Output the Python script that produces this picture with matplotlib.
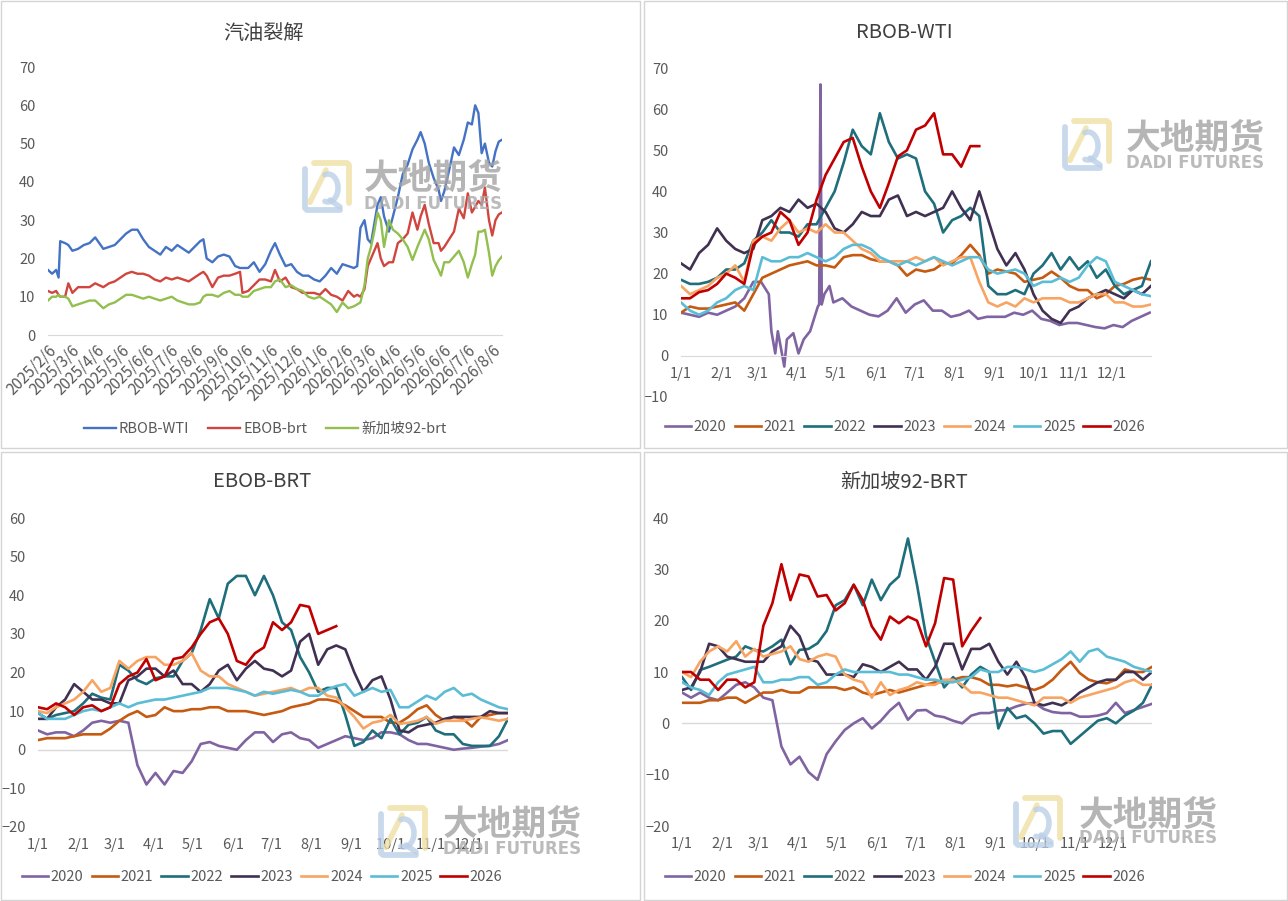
import numpy as np
import pandas as pd
import matplotlib
matplotlib.use("Agg")
import matplotlib.pyplot as plt
import matplotlib.dates as mdates
from matplotlib.ticker import FuncFormatter
from matplotlib.lines import Line2D
from matplotlib.patches import Rectangle

plt.rcParams['font.family'] = ['Noto Sans CJK SC', 'DejaVu Sans']

W, H = 1288, 901
TXT = '#595959'

# ---------------- panel 1: 汽油裂解 (daily spreads, read roughly weekly) ----------------
crack_dates = [
    "2025-02-06", "2025-02-11", "2025-02-16", "2025-02-19", "2025-02-21", "2025-02-27", "2025-03-03",
    "2025-03-08", "2025-03-15", "2025-03-22", "2025-03-29", "2025-04-05", "2025-04-10", "2025-04-15",
    "2025-04-22", "2025-04-29", "2025-05-06", "2025-05-13", "2025-05-20", "2025-05-27", "2025-06-03",
    "2025-06-10", "2025-06-17", "2025-06-24", "2025-07-01", "2025-07-08", "2025-07-15", "2025-07-22",
    "2025-07-29", "2025-08-05", "2025-08-12", "2025-08-16", "2025-08-20", "2025-08-27", "2025-09-03",
    "2025-09-10", "2025-09-17", "2025-09-24", "2025-09-30", "2025-10-03", "2025-10-10", "2025-10-17",
    "2025-10-24", "2025-10-31", "2025-11-07", "2025-11-12", "2025-11-18", "2025-11-25", "2025-12-02",
    "2025-12-09", "2025-12-16", "2025-12-23", "2025-12-30", "2026-01-06", "2026-01-13", "2026-01-20",
    "2026-01-27", "2026-02-03", "2026-02-10", "2026-02-17", "2026-02-21", "2026-02-25", "2026-03-02",
    "2026-03-06", "2026-03-10", "2026-03-14", "2026-03-18", "2026-03-22", "2026-03-26", "2026-04-01",
    "2026-04-06", "2026-04-12", "2026-04-18", "2026-04-24", "2026-04-30", "2026-05-06", "2026-05-10",
    "2026-05-15", "2026-05-20", "2026-05-26", "2026-06-01", "2026-06-04", "2026-06-08", "2026-06-14",
    "2026-06-20", "2026-06-26", "2026-07-02", "2026-07-07", "2026-07-12", "2026-07-16", "2026-07-20",
    "2026-07-24", "2026-07-28", "2026-08-02", "2026-08-06", "2026-08-10", "2026-08-14", "2026-08-18",
]
rbob_wti = [
    17, 16, 17, 15, 24.5, 24, 23.5,
    22, 22.5, 23.5, 24, 25.5, 24, 22.5,
    23, 23.5, 25, 26.5, 27.5, 27.5, 25,
    23, 22, 21, 23, 22, 23.5, 22.5,
    21.5, 23, 24.5, 25, 20, 19, 20.5,
    21, 20.5, 18, 17.5, 17.5, 17.5, 19,
    16.5, 18.5, 22, 24, 21, 18, 18.5,
    16.5, 15.5, 15.5, 14.5, 14, 15.5, 17.5,
    16, 18.5, 18, 17.5, 18, 28, 30,
    25, 24, 29, 34, 36, 31, 27,
    31, 36, 42, 44.5, 48.5, 51, 53,
    50, 45, 41, 38, 35, 37.5, 43,
    49, 47, 51, 55.5, 55, 60, 58,
    47.5, 50, 45, 44, 48, 50.5, 51,
]
ebob_brt = [
    11.5, 11, 11.5, 10.5, 10, 10, 13.5,
    11, 12.5, 12.5, 12.5, 13.5, 13, 12.5,
    13.5, 14, 15, 16, 16.5, 16, 16,
    15.5, 14.5, 14, 15, 14.5, 15, 14.5,
    14, 15, 16, 16.5, 15.5, 12.5, 15,
    15.5, 15.5, 16, 16.5, 11, 11.5, 13,
    14.5, 14.5, 14, 17, 14, 15, 12.5,
    12, 11, 11, 11, 10.5, 12, 10.5,
    10, 9, 11.5, 10, 10.5, 10, 12,
    18, 20, 22, 24, 20, 18, 19,
    19, 24, 25, 26.5, 32, 27.5, 31,
    34, 29, 24, 24, 22, 23, 25,
    27, 33, 30.5, 37, 32, 33.5, 35,
    34, 38.5, 30, 26, 30, 31.5, 32,
]
sg92_brt = [
    9, 10, 10, 10.5, 10, 10, 9.5,
    7.5, 8, 8.5, 9, 9, 8, 7,
    8, 8.5, 9.5, 10.5, 10.5, 10, 9.5,
    10, 9.5, 9, 9.5, 10, 9, 8.5,
    8, 8, 8.5, 10, 10.5, 10.5, 10,
    11, 11.5, 10.5, 10.5, 10, 10, 11.5,
    12, 12.5, 12.5, 14, 14.5, 12.5, 13,
    12, 11.5, 10, 9.5, 10, 9, 8,
    6, 8.5, 7, 7.5, 8, 8.5, 13,
    20, 23, 27, 32, 30, 23, 30,
    27.5, 26.5, 25, 23, 19.6, 23, 25,
    27.5, 25, 19.6, 17, 15.5, 19, 19,
    20.5, 22, 19, 15, 18.5, 21, 27,
    27, 27.5, 21.5, 15.5, 18, 19.5, 20.5,
]
crack_names = ["RBOB-WTI", "EBOB-brt", "新加坡92-brt"]
crack_colors = ["#4472C4", "#D0463F", "#92BF4E"]

# ---------------- seasonal panels: weekly readings from 1/1 ----------------
years = ["2020", "2021", "2022", "2023", "2024", "2025", "2026"]
year_colors = ["#8064A2", "#C55A11", "#1F6E7B", "#403152", "#F8A462", "#5BBDD5", "#C00000"]
week_days = pd.date_range("2001-01-01", periods=53, freq="7D")

# RBOB-WTI
rbob_2020_days = ["01-01", "01-08", "01-15", "01-22", "01-29", "02-05", "02-12", "02-19",
                  "02-26", "03-04", "03-10", "03-12", "03-15", "03-17", "03-22", "03-24",
                  "03-29", "04-02", "04-06", "04-11", "04-15", "04-17", "04-18", "04-19",
                  "04-20", "04-22", "04-26", "04-29", "05-06", "05-13", "05-20", "05-27",
                  "06-03", "06-10", "06-17", "06-24", "07-01", "07-08", "07-15", "07-22",
                  "07-29", "08-05", "08-12", "08-19", "08-26", "09-02", "09-09", "09-16",
                  "09-23", "09-30", "10-07", "10-14", "10-21", "10-28", "11-04", "11-11",
                  "11-18", "11-25", "12-02", "12-09", "12-16", "12-23", "12-30"]
rbob_2020 = [10.5, 10, 9.5, 10.5, 10, 11, 12, 14,
             18, 18, 15, 6, 0.6, 6, -2.6, 4,
             5.5, 0.6, 4, 6, 10, 12, 12.5, 66,
             12.5, 15, 17, 13, 14, 12, 11, 10,
             9.6, 11, 14, 10.5, 12.5, 13.5, 11, 11,
             9.5, 10, 11, 9, 9.5, 9.5, 9.5, 10.5,
             10, 11, 9, 8.5, 7.5, 8, 8, 7.5,
             7, 6.7, 7.5, 7, 8.5, 9.5, 10.5]
rbob_2021 = [10.5, 12, 11.5, 11.5, 12, 12.5, 13, 11, 15, 19,
             20, 21, 22, 22.5, 23, 22, 22, 21.5, 24, 24.5,
             24.5, 23.5, 23, 23, 22, 19.5, 21, 20.5, 21, 22.5,
             22.5, 24.5, 27, 24.5, 20, 21, 20.5, 20, 18, 18.5,
             19, 20.5, 19, 17, 16, 16, 14, 15, 17, 17.5,
             18.5, 19, 18.5]
rbob_2022 = [18.5, 17.5, 17.5, 18, 19, 21, 21, 22.5, 28, 30,
             33, 30, 30, 29, 32, 32, 36, 40, 47, 55,
             51, 49, 59, 52, 48, 49, 48, 40, 37, 30,
             33, 34, 36, 34, 17, 15, 15, 16, 15, 20,
             22, 25, 21, 24, 21, 23, 19, 21, 17, 15,
             16, 17, 23]
rbob_2023 = [22.5, 21, 25, 27, 31, 28, 26, 25, 26, 33,
             34, 36, 35, 38, 36, 37, 35, 31, 30, 32,
             35, 34, 34, 38, 39, 34, 35, 34, 35, 36,
             40, 36, 33, 40, 33, 26, 22, 25, 21, 15,
             11, 9, 8, 11, 12, 14, 15, 16, 15, 14,
             16, 15, 17]
rbob_2024 = [17, 15, 16, 17, 19, 20, 22, 18, 28, 29,
             28, 31, 33, 30, 31, 30, 32, 30, 30, 28,
             26, 25, 23, 23, 23, 23, 24, 23, 24, 22,
             23, 24, 24, 18, 13, 12, 13, 12, 14, 13,
             14, 14, 14, 13, 13, 14, 15, 15, 13, 13,
             12, 12, 12.5]
rbob_2025 = [13, 11, 10, 11, 13, 14, 16, 17, 16, 24,
             23, 23, 24, 24, 25, 24, 23, 24, 26, 27,
             27, 26, 24, 23, 22, 23, 22, 23, 24, 23,
             22, 23, 24, 24, 21, 20, 20.5, 21, 20, 17,
             18, 18, 19, 18, 19, 22, 24, 23, 18, 17,
             16, 15, 14.5]
rbob_2026 = [14, 14, 15.5, 16, 17.5, 20, 19, 17.5, 27, 29,
             30, 35, 33, 27, 30, 38, 44, 48, 52, 53,
             46, 40, 36, 42, 48.5, 50, 55, 56, 59, 49,
             49, 46, 51, 51]

# EBOB-BRT
ebob_2020 = [5, 4, 4.5, 4.5, 3.5, 5, 7, 7.5, 7, 7.5,
             7, -4, -9, -6, -9, -5.5, -6, -3, 1.5, 2,
             1, 0.5, 0, 2.5, 4.5, 4.5, 2, 4, 4.5, 3,
             2.5, 0.5, 1.5, 2.5, 3.5, 3, 2.5, 3, 4.5, 4.5,
             4, 2.5, 1.5, 1.5, 1, 0.5, 0, 0.3, 0.5, 0.8,
             1, 1.5, 2.5]
ebob_2021 = [2.5, 3, 3, 3, 3.5, 4, 4, 4, 5.5, 7.5,
             9, 10, 8.5, 9, 11, 10, 10, 10.5, 10.5, 11,
             11, 10, 10, 10, 9.5, 9, 9.5, 10, 11, 11.5,
             12, 13, 13, 12.5, 11.5, 10, 8.5, 8.5, 8.5, 7,
             7, 8.5, 10.5, 11.5, 9, 7.5, 8.5, 8, 6, 8.5,
             9, 9.5, 9.5]
ebob_2022 = [9.5, 8, 9, 9.5, 10, 12, 14.5, 13.5, 13, 22,
             20.5, 18, 17, 18.5, 19, 19, 23, 25, 31, 39,
             34, 43, 45, 45, 40, 45, 40, 33, 31, 24,
             20, 15, 16, 16, 9, 1, 2, 5, 3, 8,
             4, 6.5, 7, 8.5, 5, 4, 4, 1.5, 1, 1,
             1, 3.5, 8]
ebob_2023 = [8, 8, 11, 13, 17, 15, 13, 13, 12, 12,
             18, 19, 21, 21, 19, 20.5, 17, 17, 15, 17,
             20.5, 22, 18, 21, 23, 21, 20.5, 19, 20.5, 28,
             30, 22, 26, 27, 26, 20, 15, 18, 19, 13,
             5, 4.5, 6, 6.5, 7, 8, 8.5, 8.5, 8.5, 8.5,
             10, 9.5, 9.5]
ebob_2024 = [10, 9.5, 11, 12, 13, 15, 18, 15, 16, 23,
             21, 23, 24, 24, 22, 22, 23, 25, 20.5, 19,
             19, 17, 16, 15, 14, 14.5, 15, 15.5, 16, 15,
             16, 16, 14, 13.5, 11, 8.5, 5.5, 7, 7.5, 9,
             6.7, 7, 7.5, 8.5, 6.7, 7.5, 7.5, 7.5, 8, 8.4,
             8, 7.5, 8]
ebob_2025 = [9.5, 8, 8, 8, 9, 10, 10.5, 10, 11, 12,
             11, 12, 12.5, 13, 13, 13.5, 14, 14.5, 15, 16,
             16, 16, 15.5, 15, 14, 15, 14.5, 15, 15.5, 15,
             14, 14, 15.5, 16.5, 17, 14, 15, 16, 15, 15.5,
             11, 11, 12.5, 14, 13, 15, 16, 14, 14.5, 13,
             12, 11, 10.5]
ebob_2026 = [11, 10.5, 12, 11, 9, 11, 11.5, 10, 11, 17,
             19, 20, 23.5, 18, 19, 23.5, 24, 26.5, 30, 33,
             34, 30, 23, 22, 25, 26.5, 33, 31, 33, 37.5,
             37, 30, 31, 32]

# 新加坡92-BRT
sg_2020 = [6, 5, 6, 5, 4.5, 6, 7.5, 8, 7, 5,
           4.5, -4.5, -8, -6.5, -9.5, -11, -6, -3.5, -1.3, 0,
           1, -1, 0.5, 2.5, 4, 0.7, 2.5, 2.6, 1.5, 1.2,
           0.5, 0, 1.5, 2, 2, 2.5, 2.6, 3.3, 3.8, 4,
           2.8, 2.2, 2, 2, 1.3, 1.3, 1.5, 2, 4, 2,
           2.6, 3.2, 3.8]
sg_2021 = [4, 4, 4, 4.5, 4.5, 5, 5, 4, 5, 6,
           6, 6.5, 6, 6, 7, 7, 7, 7, 6.5, 7,
           6, 5.5, 6, 6.5, 6, 6.5, 7, 7.5, 8, 8,
           8.5, 9, 9, 8.5, 7.5, 7.5, 7.2, 7.5, 7, 6.5,
           7.2, 8.5, 10.4, 12, 9.8, 8.5, 8, 7.8, 8.5, 10.5,
           10, 10, 11]
sg_2022 = [9, 6.5, 10.4, 11, 11.7, 12.4, 13, 15, 14.3, 14,
           15, 16.3, 11.5, 14.3, 14.5, 15.6, 18, 23, 24, 27,
           23, 28, 24, 27, 28.6, 36, 27, 17, 12, 7,
           9, 7, 9.5, 11, 10, -1, 3, 1, 1.5, 0,
           -2, -1.5, -1.5, -4, -2.5, -1, 0.5, 1, 0, 1.5,
           2.5, 4, 7.5]
sg_2023 = [6.5, 7, 10, 15.5, 15, 13, 12.5, 12, 12, 12,
           14, 15, 19, 17, 12.5, 12, 9.5, 9.5, 9.5, 9,
           11.5, 11, 10, 11, 12, 10.5, 10.5, 8.5, 11, 15.5,
           15.5, 10.5, 14.5, 14.5, 15.5, 12, 9.5, 12, 9, 4,
           3.5, 4, 3.5, 4.5, 6, 7, 8, 8.5, 8.5, 10,
           10, 8.5, 10]
sg_2024 = [10, 9, 12, 14, 15, 14, 16, 13, 14.5, 13,
           13.5, 14, 15, 12.5, 12, 13, 13.5, 13, 9.5, 8.5,
           8, 5, 8, 5.5, 6.5, 7, 8, 7.5, 7.5, 8.5,
           8.5, 7.5, 6, 6, 5.5, 5, 5, 4.5, 4, 3.5,
           5, 5, 5, 4, 5, 5.5, 6, 6.5, 7, 8,
           8.5, 7.5, 7.5]
sg_2025 = [8, 7, 6.5, 5.5, 8, 9.5, 10, 10.5, 11, 8,
           8, 8.5, 8.5, 9, 9, 7.5, 8, 9.5, 10.5, 10,
           10, 10, 10, 10, 9.5, 9.5, 9, 8.5, 8.5, 8,
           8, 8.5, 9, 10.5, 10, 10, 11, 11, 10.5, 10,
           10.5, 11.5, 12.5, 14, 12, 14, 14.5, 13, 12.5, 12,
           11, 10.5, 10]
sg_2026 = [10, 10, 8.5, 8.5, 6.5, 8.5, 8.5, 7, 8, 19,
           23.4, 31, 24, 29, 28.6, 24.7, 25, 22, 23.4, 27,
           24, 18.9, 16.3, 20.8, 19.5, 20.8, 20, 15, 19.5, 28.3,
           28, 15, 18, 20.5]


def px_rect(l, t, r, b):
    return [l / W, 1 - b / H, (r - l) / W, (b - t) / H]


def fig_xy(x, y):
    return x / W, 1 - y / H


def fig_line(xs, ys, color, lw):
    xs = np.asarray(xs, dtype=float)
    ys = np.asarray(ys, dtype=float)
    fig.add_artist(Line2D(xs / W, 1 - ys / H, transform=fig.transFigure, color=color,
                          lw=lw, alpha=0.8, zorder=5, solid_capstyle="round"))


def watermark(lx, ty, tx, t1y, t2y):
    # logo 50x53: yellow top/right frame, blue left/bottom frame, inner curls
    w, h = 50, 53
    yel, blu = "#EFE0A4", "#BCD0E8"
    fig_line([lx + 12, lx + w - 5, lx + w - 3, lx + w - 3], [ty + 3, ty + 3, ty + 5, ty + h - 10], yel, 4.2)
    fig_line([lx + 3, lx + 3, lx + 5, lx + w - 12], [ty + 9, ty + h - 5, ty + h - 3, ty + h - 3], blu, 4.2)
    t = np.linspace(-0.5 * np.pi, 0.55 * np.pi, 30)
    fig_line(lx + 16 - 6 * np.cos(t + 0.5 * np.pi) * 0 + 8 * np.sin(t + np.pi),
             ty + 26 + 16 * np.sin(t), yel, 4)
    t2 = np.linspace(-0.6 * np.pi, 0.6 * np.pi, 30)
    fig_line(lx + 26 + 10 * np.cos(t2), ty + 28 + 14 * np.sin(t2), blu, 4)
    fig_line([lx + 28, lx + 38], [ty + 40, ty + h - 6], blu, 4)
    fig.text(*fig_xy(tx, t1y), "大地期货", ha="center", va="center", fontsize=25,
             fontweight="bold", color="#A3A3A3", alpha=0.8, zorder=6)
    fig.text(*fig_xy(tx, t2y), "DADI FUTURES", ha="center", va="center", fontsize=12,
             fontweight="bold", color="#AAAAAA", alpha=0.8, zorder=6,
             family=["DejaVu Sans"])


fig = plt.figure(figsize=(W / 100, H / 100), dpi=100)
fig.patch.set_facecolor("white")

for l, t, r, b in [(1, 1, 640, 448), (644, 1, 1287, 448), (1, 452, 640, 900), (644, 452, 1287, 900)]:
    fig.add_artist(Rectangle((l / W, 1 - b / H), (r - l) / W, (b - t) / H,
                             transform=fig.transFigure, fill=False, ec="#D4D4D4", lw=1))

# ---------------- panel 1 ----------------
ax1 = fig.add_axes(px_rect(48, 67, 502, 335))
cd = pd.to_datetime(crack_dates)
for vals, name, col in zip([rbob_wti, ebob_brt, sg92_brt], crack_names, crack_colors):
    ax1.plot(cd, vals, color=col, lw=1.7, label=name)
ax1.set_xlim(pd.Timestamp("2025-02-06"), pd.Timestamp("2026-08-18"))
ax1.set_ylim(0, 70)
ax1.set_yticks(range(0, 71, 10))
ax1.xaxis.set_major_locator(mdates.MonthLocator(bymonthday=6))
ax1.xaxis.set_major_formatter(FuncFormatter(
    lambda v, p: f"{mdates.num2date(v).year}/{mdates.num2date(v).month}/{mdates.num2date(v).day}"))
for s in ["top", "right", "left"]:
    ax1.spines[s].set_visible(False)
ax1.spines["bottom"].set_color("#D9D9D9")
ax1.tick_params(axis="both", length=0, labelsize=10.5, colors=TXT)
ax1.tick_params(axis="x", labelsize=11)
ax1.tick_params(axis="y", pad=9)
ax1.tick_params(axis="x", pad=5)
for lab in ax1.get_xticklabels():
    lab.set_rotation(45)
    lab.set_ha("right")
    lab.set_va("top")
    lab.set_rotation_mode("anchor")
fig.text(*fig_xy(263, 33), "汽油裂解", ha="center", va="center", fontsize=14.5, color="#404040")
h1, l1 = ax1.get_legend_handles_labels()
fig.legend(h1, l1, loc="center", bbox_to_anchor=fig_xy(265, 429), ncol=3, frameon=False,
           fontsize=10.5, handlelength=2.2, handletextpad=0.2, columnspacing=1.3,
           labelcolor=TXT)
watermark(302, 160, 433, 178, 204)


# ---------------- seasonal panels ----------------
def md_fmt(v, p):
    d = mdates.num2date(v)
    return f"{d.month}/{d.day}"


def season_panel(rect, series, ylo, yhi, step, at_zero, title, title_xy, legend_xy):
    ax = fig.add_axes(px_rect(*rect))
    for (xs, ys), name, col in zip(series, years, year_colors):
        ax.plot(xs, ys, color=col, lw=1.9, label=name)
    ax.set_xlim(pd.Timestamp("2001-01-01"), pd.Timestamp("2001-12-31"))
    ax.set_ylim(ylo, yhi)
    ax.set_yticks(np.arange(ylo, yhi + 1, step))
    ax.xaxis.set_major_locator(mdates.MonthLocator())
    ax.xaxis.set_major_formatter(FuncFormatter(md_fmt))
    for s in ["top", "right", "left"]:
        ax.spines[s].set_visible(False)
    if at_zero:
        ax.spines["bottom"].set_position(("data", 0))
        ax.spines["bottom"].set_color("#D9D9D9")
    else:
        ax.spines["bottom"].set_visible(False)
        ax.axhline(0, color="#D9D9D9", lw=1, zorder=0)
    ax.tick_params(axis="both", length=0, labelsize=10.5, colors=TXT)
    ax.tick_params(axis="y", pad=9)
    ax.tick_params(axis="x", pad=8)
    fig.text(*fig_xy(*title_xy), title, ha="center", va="center", fontsize=14.5, color="#404040")
    hs, ls = ax.get_legend_handles_labels()
    fig.legend(hs, ls, loc="center", bbox_to_anchor=fig_xy(*legend_xy), ncol=7, frameon=False,
               fontsize=10.5, handlelength=1.8, handletextpad=0.2, columnspacing=0.55,
               labelcolor=TXT)
    return ax


rbob_2020_x = pd.to_datetime(["2001-" + d for d in rbob_2020_days])
rbob_series = [(rbob_2020_x, rbob_2020), (week_days, rbob_2021), (week_days, rbob_2022),
               (week_days, rbob_2023), (week_days, rbob_2024), (week_days, rbob_2025),
               (week_days[:len(rbob_2026)], rbob_2026)]
season_panel((681, 68, 1151, 397), rbob_series, -10, 70, 10, True, "RBOB-WTI", (904, 32), (905, 427))
watermark(1062, 118, 1195, 138, 163)

ebob_series = [(week_days, ebob_2020), (week_days, ebob_2021), (week_days, ebob_2022),
               (week_days, ebob_2023), (week_days, ebob_2024), (week_days, ebob_2025),
               (week_days[:len(ebob_2026)], ebob_2026)]
season_panel((38, 518, 508, 827), ebob_series, -20, 60, 10, False, "EBOB-BRT", (262, 482), (262, 877))
watermark(378, 805, 512, 824, 849)

sg_series = [(week_days, sg_2020), (week_days, sg_2021), (week_days, sg_2022),
             (week_days, sg_2023), (week_days, sg_2024), (week_days, sg_2025),
             (week_days[:len(sg_2026)], sg_2026)]
season_panel((682, 518, 1152, 826), sg_series, -20, 40, 10, False, "新加坡92-BRT", (904, 482), (905, 877))
watermark(1013, 795, 1148, 815, 838)

fig.savefig("out.png", dpi=100, facecolor="white")
